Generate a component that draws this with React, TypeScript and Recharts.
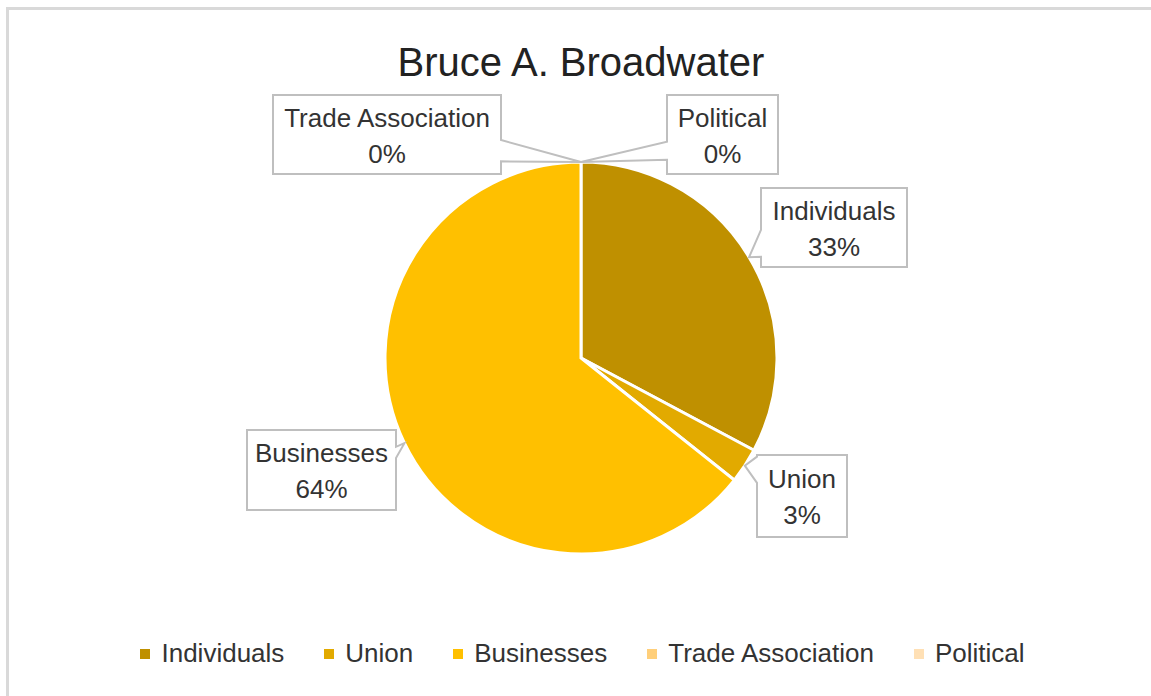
import React from 'react';
import { PieChart, Pie, Cell, Legend } from 'recharts';

const TITLE = 'Bruce A. Broadwater';
const categories = ['Individuals', 'Union', 'Businesses', 'Trade Association', 'Political'];
const shares = [32.8, 2.9, 64.3, 0, 0];
const colors = ['#BF9000', '#E2AA00', '#FFC000', '#FFCF7A', '#FFE0B5'];

// callout box layout relative to pie centre: [dx, dy, w, h, side, baseStart, baseEnd]
const calloutLayout: [number, number, number, number, 'left' | 'right', number, number][] = [
  [180, -170, 146, 79, 'left', 0.53, 0.87],
  [176, 97, 90, 82, 'left', 0.02, 0.34],
  [-334, 72, 149, 80, 'right', 0.21, 0.35],
  [-308, -263, 228, 79, 'right', 0.57, 0.84],
  [86, -263, 111, 79, 'left', 0.59, 0.82],
];

const data = categories.map((name, i) => ({ name, value: shares[i] }));

const FONT = '"Liberation Sans", Arial, sans-serif';
const RAD = Math.PI / 180;

const renderLabel = (props: any) => {
  const { cx, cy, midAngle, outerRadius, percent, index, name } = props;
  const lay = calloutLayout[index];
  if (!lay) return null;
  const [dx, dy, w, h, side, a, b] = lay;
  const tipX = cx + outerRadius * Math.cos(-midAngle * RAD);
  const tipY = cy + outerRadius * Math.sin(-midAngle * RAD);
  const x0 = cx + dx;
  const y0 = cy + dy;
  const x1 = x0 + w;
  const y1 = y0 + h;
  let d = `M${x0},${y0} L${x1},${y0} `;
  if (side === 'right') {
    d += `L${x1},${y0 + a * h} L${tipX},${tipY} L${x1},${y0 + b * h} `;
  }
  d += `L${x1},${y1} L${x0},${y1} `;
  if (side === 'left') {
    d += `L${x0},${y0 + b * h} L${tipX},${tipY} L${x0},${y0 + a * h} `;
  }
  d += 'Z';
  const mx = x0 + w / 2;
  const my = y0 + h / 2;
  return (
    <g key={`lbl-${index}`}>
      <path d={d} fill="#fff" stroke="#BFBFBF" strokeWidth={2} strokeLinejoin="miter" />
      <text x={mx} y={my - 17} textAnchor="middle" dominantBaseline="central" fontFamily={FONT} fontSize={26} fill="#333">
        {name}
      </text>
      <text x={mx} y={my + 19} textAnchor="middle" dominantBaseline="central" fontFamily={FONT} fontSize={26} fill="#333">
        {`${Math.round(percent * 100)}%`}
      </text>
    </g>
  );
};

const renderLegend = (props: any) => {
  const payload = [...(props.payload || [])].sort(
    (p: any, q: any) => categories.indexOf(p.value) - categories.indexOf(q.value)
  );
  return (
    <div style={{ display: 'flex', justifyContent: 'center', alignItems: 'center', paddingLeft: 14, fontFamily: FONT, fontSize: 26, color: '#333' }}>
      {payload.map((entry: any, i: number) => (
        <div key={i} style={{ display: 'flex', alignItems: 'center', marginRight: i < payload.length - 1 ? 40 : 0 }}>
          <span style={{ display: 'inline-block', width: 10, height: 10, background: entry.color, marginRight: 11 }} />
          <span>{entry.value}</span>
        </div>
      ))}
    </div>
  );
};

export default function App() {
  return (
    <div style={{ position: 'absolute', left: 0, top: 0, width: 1151, height: 696, overflow: 'hidden', background: '#fff' }}>
      <div style={{ position: 'absolute', left: 6, top: 7, width: 1300, height: 900, border: '3px solid #D9D9D9', boxSizing: 'border-box' }} />
      <div style={{ position: 'absolute', left: 0, top: 38, width: 1162, textAlign: 'center', fontFamily: FONT, fontSize: 40, color: '#222', lineHeight: '48px' }}>
        {TITLE}
      </div>
      <div style={{ position: 'absolute', left: 0, top: 0 }}>
        <PieChart width={1151} height={696} margin={{ top: 0, right: 0, bottom: 0, left: 0 }}>
          <Pie
            data={data}
            dataKey="value"
            nameKey="name"
            cx={581}
            cy={358}
            outerRadius={196}
            startAngle={90}
            endAngle={-270}
            stroke="#fff"
            strokeWidth={3}
            label={renderLabel}
            labelLine={false}
            isAnimationActive={false}
          >
            {data.map((_, i) => (
              <Cell key={i} fill={colors[i]} />
            ))}
          </Pie>
          <Legend content={renderLegend} wrapperStyle={{ left: 0, top: 638, width: 1151 }} />
        </PieChart>
      </div>
    </div>
  );
}
